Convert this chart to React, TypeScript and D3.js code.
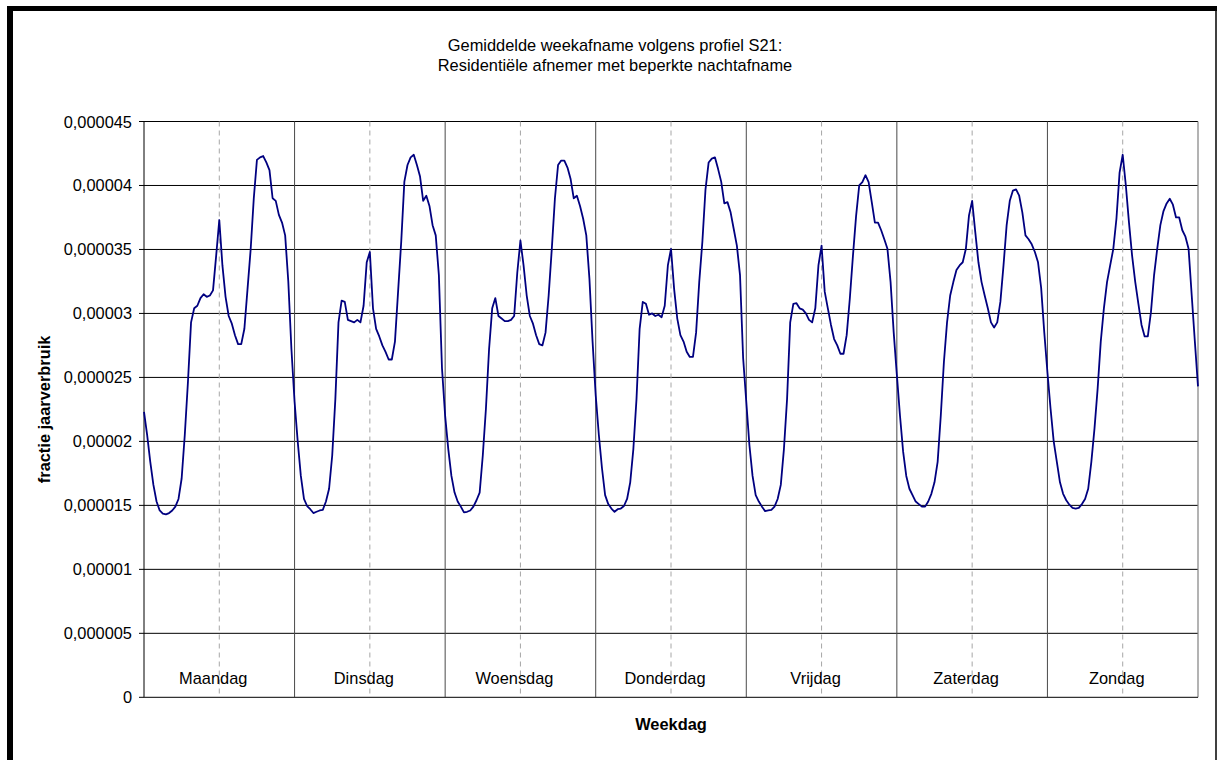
import React from "react";
import * as d3 from "d3";

// gemiddelde weekafname S21, halfuurwaarden (x 1e-6 fractie jaarverbruik)
const maandag = [22.3, 20.5, 18.4, 16.6, 15.3, 14.6, 14.35, 14.3, 14.4, 14.6, 14.9, 15.5, 17.1, 20.5, 24.6, 29.3, 30.4, 30.6, 31.2, 31.5, 31.3, 31.4, 31.8, 34.5, 37.3, 33.75, 31.3, 29.8, 29.2, 28.3, 27.6, 27.6, 28.8, 31.9, 35.0, 39.0, 42.0, 42.2, 42.3, 41.8, 41.2, 39.0, 38.8, 37.7, 37.1, 36.1, 32.5, 27.2];
const dinsdag = [23.1, 20.0, 17.3, 15.5, 14.95, 14.7, 14.4, 14.5, 14.6, 14.65, 15.3, 16.3, 18.9, 23.3, 29.3, 31.0, 30.9, 29.5, 29.4, 29.3, 29.5, 29.3, 30.6, 34.0, 34.8, 30.4, 28.8, 28.2, 27.5, 27.0, 26.4, 26.4, 27.8, 31.7, 35.6, 40.3, 41.6, 42.2, 42.4, 41.6, 40.7, 38.8, 39.2, 38.4, 36.9, 36.1, 33.0, 25.7];
const woensdag = [22.0, 19.4, 17.3, 16.0, 15.3, 14.9, 14.45, 14.5, 14.6, 14.9, 15.4, 16.0, 18.9, 22.55, 27.2, 30.4, 31.2, 29.8, 29.6, 29.4, 29.4, 29.5, 29.8, 33.2, 35.7, 33.75, 31.4, 29.8, 29.2, 28.3, 27.6, 27.5, 28.5, 31.4, 35.05, 39.0, 41.6, 41.95, 41.95, 41.4, 40.5, 39.0, 39.2, 38.4, 37.4, 36.1, 32.7, 27.8];
const donderdag = [23.6, 20.5, 17.9, 15.8, 15.1, 14.75, 14.5, 14.7, 14.75, 14.95, 15.5, 16.8, 19.4, 23.3, 28.8, 30.9, 30.75, 29.9, 30.0, 29.8, 29.9, 29.7, 30.6, 33.75, 35.05, 31.9, 29.6, 28.3, 27.8, 27.0, 26.6, 26.6, 28.5, 32.45, 35.6, 39.7, 41.8, 42.1, 42.2, 41.3, 40.3, 38.6, 38.7, 37.9, 36.6, 35.3, 33.0, 26.5];
const vrijdag = [23.1, 19.7, 17.3, 15.8, 15.3, 14.9, 14.55, 14.6, 14.65, 14.9, 15.5, 16.6, 19.4, 23.3, 29.3, 30.75, 30.8, 30.4, 30.3, 30.0, 29.5, 29.3, 30.4, 33.75, 35.3, 31.7, 30.4, 29.1, 28.0, 27.5, 26.85, 26.85, 28.3, 31.15, 34.5, 37.6, 40.0, 40.26, 40.8, 40.26, 38.7, 37.1, 37.1, 36.5, 35.8, 35.05, 32.45, 28.5];
const zaterdag = [25.2, 22.0, 19.2, 17.3, 16.3, 15.8, 15.3, 15.1, 14.9, 14.9, 15.3, 15.9, 16.8, 18.4, 22.0, 26.2, 29.3, 31.4, 32.45, 33.4, 33.75, 34.0, 35.05, 37.66, 38.8, 36.35, 34.0, 32.45, 31.4, 30.4, 29.3, 28.9, 29.3, 30.9, 33.75, 36.9, 38.8, 39.6, 39.7, 39.2, 37.9, 36.1, 35.8, 35.4, 34.8, 34.0, 32.0, 28.5];
const zondag = [25.4, 22.55, 20.0, 18.4, 16.8, 15.9, 15.4, 15.05, 14.8, 14.75, 14.8, 15.1, 15.5, 16.3, 18.4, 21.0, 24.1, 27.8, 30.4, 32.45, 33.75, 35.05, 37.4, 41.0, 42.4, 40.0, 37.1, 34.5, 32.45, 30.75, 29.1, 28.2, 28.2, 30.1, 33.0, 35.05, 36.9, 38.0, 38.6, 38.96, 38.5, 37.5, 37.5, 36.5, 36.0, 35.05, 31.4, 27.8];
const eindwaarde = 24.3;

const dagen = ["Maandag", "Dinsdag", "Woensdag", "Donderdag", "Vrijdag", "Zaterdag", "Zondag"];

const W = 1218;
const H = 760;
const margin = { left: 144, right: 1198, top: 121.5, bottom: 697.3 };
const FONT = "'Liberation Sans', Arial, sans-serif";

const nl = d3.formatLocale({ decimal: ",", thousands: ".", grouping: [3], currency: ["€", ""] });
const fmt = nl.format(".6~f");

export default function App() {
  const week = [maandag, dinsdag, woensdag, donderdag, vrijdag, zaterdag, zondag];
  const values = week.flat().concat([eindwaarde]).map((v) => v * 1e-6);
  const perDag = maandag.length;
  const n = perDag * dagen.length;

  const x = d3.scaleLinear().domain([0, n]).range([margin.left, margin.right]);
  const y = d3.scaleLinear().domain([0, 0.000045]).range([margin.bottom, margin.top]);

  const line = d3
    .line<number>()
    .x((_, i) => x(i))
    .y((d) => y(d));

  const yTicks = y.ticks(9);

  return (
    <svg width={W} height={H} style={{ position: "absolute", left: 0, top: 0, background: "#fff" }}>
      {/* kader */}
      <rect x={7} y={6} width={6} height={H - 6} fill="#000" />
      <rect x={7} y={6} width={1210} height={5} fill="#000" />
      <line x1={1216} x2={1216} y1={6} y2={H} stroke="#000" strokeWidth={1.5} />

      {/* titel */}
      <text x={615} y={51} textAnchor="middle" fontFamily={FONT} fontSize={16.4} fill="#000">
        Gemiddelde weekafname volgens profiel S21:
      </text>
      <text x={615} y={71} textAnchor="middle" fontFamily={FONT} fontSize={16.4} fill="#000">
        Residentiële afnemer met beperkte nachtafname
      </text>

      {/* horizontale rasterlijnen */}
      {yTicks
        .filter((t) => t > 0)
        .map((t) => (
          <line key={"g" + t} x1={margin.left} x2={margin.right} y1={y(t)} y2={y(t)} stroke="#000" strokeWidth={1} />
        ))}

      {/* middag (gestreept) */}
      {dagen.map((d, i) => (
        <line
          key={"m" + d}
          x1={x(i * perDag + perDag / 2)}
          x2={x(i * perDag + perDag / 2)}
          y1={margin.top}
          y2={margin.bottom}
          stroke="#a6a6a6"
          strokeWidth={1}
          strokeDasharray="5,4"
        />
      ))}

      {/* daggrenzen */}
      {dagen.slice(1).map((d, i) => (
        <line
          key={"b" + d}
          x1={x((i + 1) * perDag)}
          x2={x((i + 1) * perDag)}
          y1={margin.top}
          y2={margin.bottom}
          stroke="#4a4a4a"
          strokeWidth={1}
        />
      ))}
      <line x1={margin.right} x2={margin.right} y1={margin.top} y2={margin.bottom} stroke="#808080" strokeWidth={1.2} />

      {/* assen */}
      <line x1={margin.left} x2={margin.left} y1={margin.top} y2={margin.bottom} stroke="#000" strokeWidth={1} />
      <line x1={margin.left} x2={margin.right} y1={margin.bottom} y2={margin.bottom} stroke="#333" strokeWidth={1.2} />
      {yTicks.map((t) => (
        <g key={"t" + t}>
          <line x1={margin.left - 5} x2={margin.left} y1={y(t)} y2={y(t)} stroke="#000" />
          <text x={132} y={y(t) + 6} textAnchor="end" fontFamily={FONT} fontSize={16.4} fill="#000">
            {fmt(t)}
          </text>
        </g>
      ))}

      {/* daglabels */}
      {dagen.map((d, i) => (
        <text
          key={"l" + d}
          x={x(i * perDag + perDag / 2) - 6}
          y={684}
          textAnchor="middle"
          fontFamily={FONT}
          fontSize={16.4}
          fill="#000"
        >
          {d}
        </text>
      ))}

      {/* reeks */}
      <path d={line(values) ?? ""} fill="none" stroke="#000080" strokeWidth={1.8} strokeLinejoin="round" />

      {/* astitels */}
      <text x={671} y={730} textAnchor="middle" fontFamily={FONT} fontSize={16.4} fontWeight="bold" fill="#000">
        Weekdag
      </text>
      <text
        transform={`translate(50,${(margin.top + margin.bottom) / 2}) rotate(-90)`}
        textAnchor="middle"
        fontFamily={FONT}
        fontSize={16.4}
        fontWeight="bold"
        fill="#000"
      >
        fractie jaarverbruik
      </text>
    </svg>
  );
}
